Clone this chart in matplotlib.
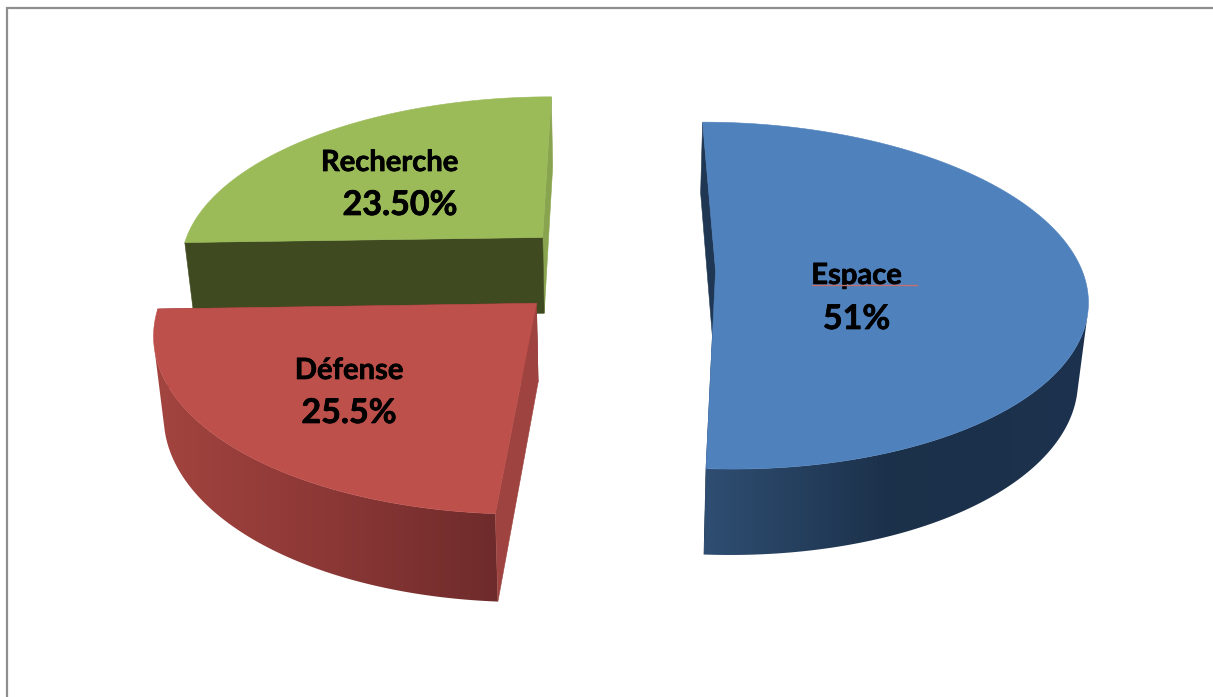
import numpy as np
import matplotlib
matplotlib.use("Agg")
import matplotlib.pyplot as plt
import matplotlib.patheffects as pe
from matplotlib.colors import LinearSegmentedColormap
from matplotlib.patches import Polygon

# slice sizes as they are drawn: the red one is really the smaller of the two,
# the printed labels say the opposite
names = ["Espace", "Défense", "Recherche"]
slice_values = [51, 23.5, 25.5]
value_labels = ["51%", "25.5%", "23.50%"]

top_colors = ["#4F81BD", "#BE504C", "#9BBB59"]
wall_stops = [["#2F4E72", "#1B3049", "#1C324E"],
              ["#A3443F", "#8C3836", "#6E2B2B"],
              ["#5F7135", "#5F7135", "#5F7135"]]
start_face_colors = ["#1F3752", "#9E433F", "#3F4A21"]
end_face_colors = ["#1F3752", "#7A2F2E", "#89A44E"]
explode = [0.28, 0.283, 0.275]

# camera for the fake 3d pie, in pixels
X0, Y0 = 613, 269
A, B = 366, 169.4
K = 0.1445
H = 78.9
BOTTOM_SCALE = 0.978


def project(u, v, bottom):
    w = 1 - K * v
    s = BOTTOM_SCALE / w if bottom else 1 / w
    return X0 + A * u * s, Y0 + (B * v + (H if bottom else 0)) * s


def rim(cu, cv, angles, bottom):
    t = np.radians(angles)
    x, y = project(cu + np.cos(t), cv + np.sin(t), bottom)
    return np.column_stack([x, y])


fig = plt.figure(figsize=(12.13, 6.97), dpi=100)
ax = fig.add_axes([0, 0, 1, 1])
ax.set_xlim(0, 1213)
ax.set_ylim(697, 0)
ax.axis("off")

# frame of the pasted picture
ax.plot([6.5, 6.5, 1213], [697, 7.5, 7.5], color="#8E8E8E", lw=1.6, solid_joinstyle="miter")

# start angles, clockwise from 12 o'clock
sweeps = [val / sum(slice_values) * 360 for val in slice_values]
starts = [-90 + sum(sweeps[:i]) for i in range(len(sweeps))]
z = 2


def flat(points, color):
    global z
    ax.add_patch(Polygon(points, closed=True, facecolor=color, edgecolor=color, lw=0.4, zorder=z))
    z += 1


def cut_face(cu, cv, angle, color):
    a = np.radians(angle)
    pts = [project(cu, cv, False), project(cu + np.cos(a), cv + np.sin(a), False),
           project(cu + np.cos(a), cv + np.sin(a), True), project(cu, cv, True)]
    flat(pts, color)


# green goes first, the red top sits over it
for i in [2, 0, 1]:
    t0, t1 = starts[i], starts[i] + sweeps[i]
    mid = np.radians((t0 + t1) / 2)
    cu, cv = explode[i] * np.cos(mid), explode[i] * np.sin(mid)

    start_front = -np.cos(np.radians(t0)) > 0
    end_front = np.cos(np.radians(t1)) > 0
    if not start_front:
        cut_face(cu, cv, t0, start_face_colors[i])
    if not end_front:
        cut_face(cu, cv, t1, end_face_colors[i])

    # outer wall, only the part turned to the viewer (up to the silhouette)
    tt = np.linspace(t0, t1, 600)
    top_pts = rim(cu, cv, tt, False)
    bot_pts = rim(cu, cv, tt, True)
    r = np.gradient(top_pts, axis=0)
    d = bot_pts - top_pts
    keep = r[:, 0] * d[:, 1] - r[:, 1] * d[:, 0] < 0
    if keep.sum() > 1:
        pts = np.vstack([top_pts[keep], bot_pts[keep][::-1]])
        patch = Polygon(pts, closed=True, facecolor="none", edgecolor="none", transform=ax.transData)
        ax.add_patch(patch)
        cmap = LinearSegmentedColormap.from_list("wall", wall_stops[i])
        im = ax.imshow(np.linspace(0, 1, 256).reshape(1, -1), cmap=cmap, aspect="auto",
                       extent=[pts[:, 0].min(), pts[:, 0].max(), pts[:, 1].max(), pts[:, 1].min()],
                       interpolation="bilinear", zorder=z)
        im.set_clip_path(patch)
        z += 1

    if start_front:
        cut_face(cu, cv, t0, start_face_colors[i])
    if end_front:
        cut_face(cu, cv, t1, end_face_colors[i])

    apex = np.array([project(cu, cv, False)])
    flat(np.vstack([apex, top_pts]), top_colors[i])

ax.set_xlim(0, 1213)
ax.set_ylim(697, 0)

plt.rcParams["font.family"] = ["Lato", "DejaVu Sans"]
thick = [pe.withStroke(linewidth=0.5, foreground="black")]
name_pos = [(856.5, 276), (349, 371), (389.5, 163)]
value_pos = [(856.5, 319), (349, 413), (400, 205)]
for i in range(3):
    ax.text(name_pos[i][0], name_pos[i][1], names[i], fontsize=21, fontweight="bold",
            ha="center", va="center", color="black", zorder=50, path_effects=thick)
    ax.text(value_pos[i][0], value_pos[i][1], value_labels[i], fontsize=24.5, fontweight="bold",
            ha="center", va="center", color="black", zorder=50, path_effects=thick)

# spell check squiggle under Espace
ax.plot([812, 917], [285, 285], color="#C0706F", lw=1.0, zorder=51)

fig.savefig("out.png", dpi=100)
